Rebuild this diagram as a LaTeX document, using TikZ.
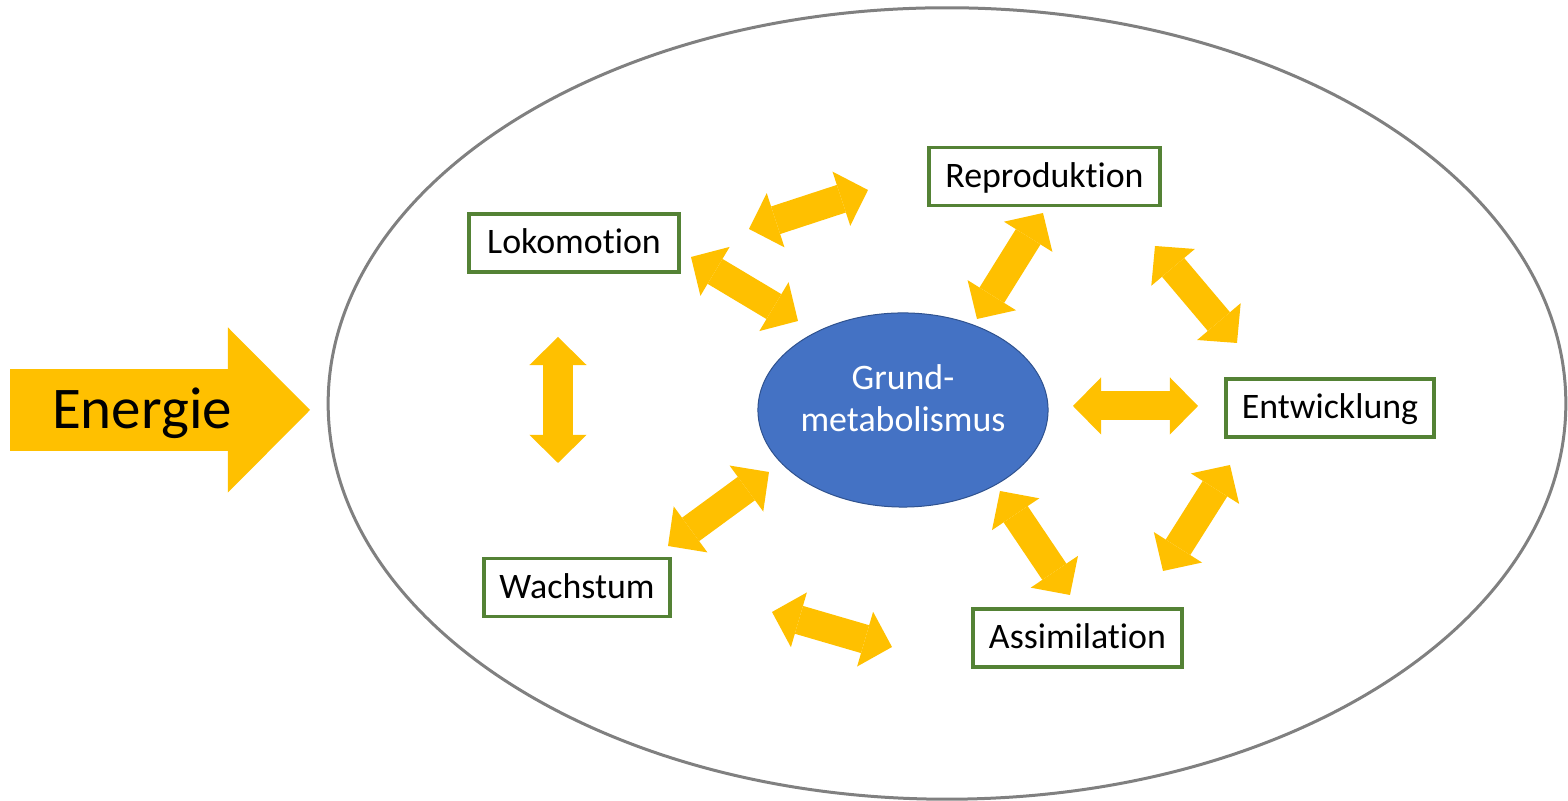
\documentclass[tikz,border=0pt]{standalone}
\usepackage{fontspec}
\setmainfont{Carlito}[Ligatures=NoCommon]
\usepackage{tikz}
\usetikzlibrary{arrows.meta,
    shapes.geometric}

\definecolor{gelb}{HTML}{FFC000}
\definecolor{gruen}{HTML}{548235}
\definecolor{blau}{HTML}{4472C4}
\definecolor{blaurand}{HTML}{2F528F}
\definecolor{grau}{HTML}{808080}

\tikzset{
  kasten/.style={draw=gruen, line width=0.035cm, fill=white, inner sep=0pt,
    minimum height=0.58cm, text height=0.23cm, text depth=0.01cm,
    font=\fontsize{10.2}{12.2}\selectfont},
  doppel/.style={gelb, line width=0.29cm,
    {Triangle[width=0.57cm,length=0.28cm,line width=0pt]}-{Triangle[width=0.57cm,length=0.28cm,line width=0pt]}}
}

\begin{document}
\begin{tikzpicture}[x=0.01cm, y=-0.01cm]
                  \useasboundingbox (0,0) rectangle (1568,801);
                  \draw[grau, line width=0.03cm] (947,403.5) ellipse [x radius=6.185cm, y radius=3.955cm];

                  \coordinate (e1) at (10,410);
                  \coordinate (e2) at (310,410);
                  \draw[gelb, line width=0.82cm, -{Triangle[width=1.65cm,length=0.82cm,line width=0pt]}] (e1) -- (e2);
                  \node[font=\fontsize{16.8}{20}\selectfont, text height=0.38cm, text depth=0pt, inner sep=0pt] (energie) at (142,410) {Energie};

                  \node[ellipse, draw=blaurand, line width=0.01cm, fill=blau, text=white, inner sep=0pt,
                        minimum width=2.9cm, minimum height=1.94cm, align=center,
                        text height=0.7cm, text depth=0.26cm, font=\fontsize{10.2}{12.2}\selectfont] (grund) at (903,410) {Grund-\\metabolismus};

                  \node[kasten, minimum width=2.1cm] (lok) at (574,243) {Lokomotion};
                  \node[kasten, minimum width=2.31cm] (rep) at (1044.5,176.5) {Reproduktion};
                  \node[kasten, minimum width=2.08cm] (ent) at (1330,408) {Entwicklung};
                  \node[kasten, minimum width=2.09cm] (ass) at (1077.5,638) {Assimilation};
                  \node[kasten, minimum width=1.86cm] (wach) at (577,587.5) {Wachstum};

                  \coordinate (lr1) at (749,229);
                  \coordinate (lr2) at (868,190);
                  \coordinate (lg1) at (691,257);
                  \coordinate (lg2) at (798,321);
                  \coordinate (rg1) at (1043,213);
                  \coordinate (rg2) at (977,319);
                  \coordinate (re1) at (1155,246);
                  \coordinate (re2) at (1237,343);
                  \coordinate (ge1) at (1073,406);
                  \coordinate (ge2) at (1198,406);
                  \coordinate (ea1) at (1230,465);
                  \coordinate (ea2) at (1163,571);
                  \coordinate (ga1) at (1000,491);
                  \coordinate (ga2) at (1070,595);
                  \coordinate (aw1) at (772,612);
                  \coordinate (aw2) at (892,647);
                  \coordinate (wg1) at (668,546);
                  \coordinate (wg2) at (769,472);
                  \coordinate (lw1) at (558,337);
                  \coordinate (lw2) at (558,463);

                  \draw[doppel] (lr1) -- (lr2);
                  \draw[doppel] (lg1) -- (lg2);
                  \draw[doppel] (rg1) -- (rg2);
                  \draw[doppel] (re1) -- (re2);
                  \draw[doppel] (ge1) -- (ge2);
                  \draw[doppel] (ea1) -- (ea2);
                  \draw[doppel] (ga1) -- (ga2);
                  \draw[doppel] (aw1) -- (aw2);
                  \draw[doppel] (wg1) -- (wg2);
                  \draw[doppel] (lw1) -- (lw2);
              \end{tikzpicture}
\end{document}
